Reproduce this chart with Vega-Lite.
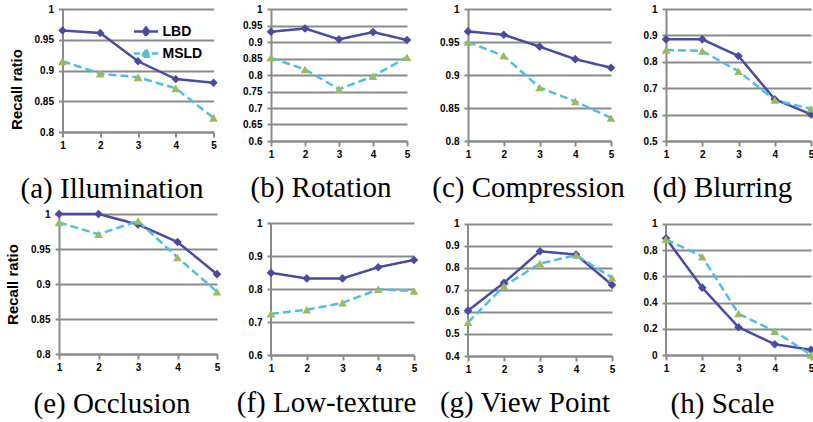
{
  "$schema": "https://vega.github.io/schema/vega-lite/v6.json",
  "padding": {"left": 5, "top": 4, "right": 0, "bottom": 0},
  "data": {"values": [
    {"p":"a","s":"LBD","x":1,"v":0.965},{"p":"a","s":"LBD","x":2,"v":0.961},{"p":"a","s":"LBD","x":3,"v":0.915},{"p":"a","s":"LBD","x":4,"v":0.886},{"p":"a","s":"LBD","x":5,"v":0.880},
    {"p":"a","s":"MSLD","x":1,"v":0.915},{"p":"a","s":"MSLD","x":2,"v":0.895},{"p":"a","s":"MSLD","x":3,"v":0.889},{"p":"a","s":"MSLD","x":4,"v":0.871},{"p":"a","s":"MSLD","x":5,"v":0.823},
    {"p":"b","s":"LBD","x":1,"v":0.931},{"p":"b","s":"LBD","x":2,"v":0.941},{"p":"b","s":"LBD","x":3,"v":0.908},{"p":"b","s":"LBD","x":4,"v":0.930},{"p":"b","s":"LBD","x":5,"v":0.906},
    {"p":"b","s":"MSLD","x":1,"v":0.852},{"p":"b","s":"MSLD","x":2,"v":0.817},{"p":"b","s":"MSLD","x":3,"v":0.757},{"p":"b","s":"MSLD","x":4,"v":0.796},{"p":"b","s":"MSLD","x":5,"v":0.854},
    {"p":"c","s":"LBD","x":1,"v":0.966},{"p":"c","s":"LBD","x":2,"v":0.961},{"p":"c","s":"LBD","x":3,"v":0.943},{"p":"c","s":"LBD","x":4,"v":0.924},{"p":"c","s":"LBD","x":5,"v":0.911},
    {"p":"c","s":"MSLD","x":1,"v":0.950},{"p":"c","s":"MSLD","x":2,"v":0.929},{"p":"c","s":"MSLD","x":3,"v":0.881},{"p":"c","s":"MSLD","x":4,"v":0.860},{"p":"c","s":"MSLD","x":5,"v":0.835},
    {"p":"d","s":"LBD","x":1,"v":0.885},{"p":"d","s":"LBD","x":2,"v":0.885},{"p":"d","s":"LBD","x":3,"v":0.822},{"p":"d","s":"LBD","x":4,"v":0.658},{"p":"d","s":"LBD","x":5,"v":0.601},
    {"p":"d","s":"MSLD","x":1,"v":0.845},{"p":"d","s":"MSLD","x":2,"v":0.841},{"p":"d","s":"MSLD","x":3,"v":0.764},{"p":"d","s":"MSLD","x":4,"v":0.655},{"p":"d","s":"MSLD","x":5,"v":0.622},
    {"p":"e","s":"LBD","x":1,"v":1.0},{"p":"e","s":"LBD","x":2,"v":1.0},{"p":"e","s":"LBD","x":3,"v":0.985},{"p":"e","s":"LBD","x":4,"v":0.960},{"p":"e","s":"LBD","x":5,"v":0.914},
    {"p":"e","s":"MSLD","x":1,"v":0.988},{"p":"e","s":"MSLD","x":2,"v":0.971},{"p":"e","s":"MSLD","x":3,"v":0.990},{"p":"e","s":"MSLD","x":4,"v":0.938},{"p":"e","s":"MSLD","x":5,"v":0.889},
    {"p":"f","s":"LBD","x":1,"v":0.849},{"p":"f","s":"LBD","x":2,"v":0.832},{"p":"f","s":"LBD","x":3,"v":0.832},{"p":"f","s":"LBD","x":4,"v":0.866},{"p":"f","s":"LBD","x":5,"v":0.888},
    {"p":"f","s":"MSLD","x":1,"v":0.725},{"p":"f","s":"MSLD","x":2,"v":0.737},{"p":"f","s":"MSLD","x":3,"v":0.758},{"p":"f","s":"MSLD","x":4,"v":0.799},{"p":"f","s":"MSLD","x":5,"v":0.794},
    {"p":"g","s":"LBD","x":1,"v":0.606},{"p":"g","s":"LBD","x":2,"v":0.733},{"p":"g","s":"LBD","x":3,"v":0.876},{"p":"g","s":"LBD","x":4,"v":0.861},{"p":"g","s":"LBD","x":5,"v":0.723},
    {"p":"g","s":"MSLD","x":1,"v":0.553},{"p":"g","s":"MSLD","x":2,"v":0.718},{"p":"g","s":"MSLD","x":3,"v":0.820},{"p":"g","s":"MSLD","x":4,"v":0.859},{"p":"g","s":"MSLD","x":5,"v":0.756},
    {"p":"h","s":"LBD","x":1,"v":0.891},{"p":"h","s":"LBD","x":2,"v":0.514},{"p":"h","s":"LBD","x":3,"v":0.212},{"p":"h","s":"LBD","x":4,"v":0.082},{"p":"h","s":"LBD","x":5,"v":0.040},
    {"p":"h","s":"MSLD","x":1,"v":0.883},{"p":"h","s":"MSLD","x":2,"v":0.750},{"p":"h","s":"MSLD","x":3,"v":0.316},{"p":"h","s":"MSLD","x":4,"v":0.181},{"p":"h","s":"MSLD","x":5,"v":0.0}
  ]},
  "columns": 4,
  "bounds": "flush",
  "center": {"column": true, "row": false},
  "spacing": {"row": 73, "column": 54},
  "resolve": {"scale": {"color": "independent", "fill": "independent", "stroke": "independent", "shape": "independent", "strokeDash": "independent"}, "legend": {"color": "independent", "fill": "independent", "stroke": "independent", "shape": "independent", "strokeDash": "independent"}},
  "concat": [
    {"width": 151, "height": 123, "transform": [{"filter": "datum.p === 'a'"}],
     "title": {"text": "(a) Illumination", "dx": -26, "offset": 25},
     "encoding": {
       "x": {"field": "x", "type": "quantitative", "scale": {"domain": [1, 5], "nice": false, "zero": false}, "axis": {"values": [1,2,3,4,5], "title": null, "format": "d"}},
       "y": {"field": "v", "type": "quantitative", "scale": {"domain": [0.8, 1], "nice": false, "zero": false}, "axis": {"values": [0.8,0.85,0.9,0.95,1], "format": "~g", "title": "Recall ratio", "titlePadding": 10, "titleFontSize": 15, "titleY": 80}}
     },
     "layer": [
       {"transform": [{"filter": "datum.s === 'LBD'"}], "mark": {"type": "line", "strokeWidth": 2.5, "color": "#4a4aa6"}, "encoding": {}},
       {"transform": [{"filter": "datum.s === 'MSLD'"}], "mark": {"type": "line", "strokeWidth": 2.5, "color": "#4bc0e6", "strokeDash": [8, 4]}, "encoding": {}},
       {"transform": [{"filter": "datum.s === 'LBD'"}], "mark": {"type": "point", "shape": "diamond", "filled": true, "opacity": 1, "size": 70, "color": "#4a4aa6"}},
       {"transform": [{"filter": "datum.s === 'MSLD'"}], "mark": {"type": "point", "shape": "triangle-up", "filled": true, "opacity": 1, "size": 80, "color": "#9bbb59"}},
       {"transform": [{"filter": "false"}], "mark": {"type": "point", "filled": true, "opacity": 1, "strokeWidth": 2.5}, "encoding": {
         "shape": {"field": "s", "type": "nominal", "scale": {"domain": ["LBD","MSLD"], "range": ["M-1.2,0L1.2,0M0,-0.4L0.3,0L0,0.4L-0.3,0Z", "M-1.2,0L1.2,0M0,-0.42L0.42,0.32L-0.42,0.32Z"]},
           "legend": {"title": null, "orient": "top-right", "offset": 7, "padding": 4, "rowPadding": 1, "labelFont": "Liberation Sans", "labelFontWeight": "bold", "labelFontSize": 14, "labelColor": "#000", "labelOffset": 5, "symbolSize": 400, "symbolStrokeWidth": 2.5}},
         "fill": {"field": "s", "type": "nominal", "scale": {"domain": ["LBD","MSLD"], "range": ["#4a4aa6","#9bbb59"]},
           "legend": {"title": null, "orient": "top-right", "offset": 7, "padding": 4, "rowPadding": 1, "labelFont": "Liberation Sans", "labelFontWeight": "bold", "labelFontSize": 14, "labelColor": "#000", "labelOffset": 5, "symbolSize": 400, "symbolStrokeWidth": 2.5}},
         "stroke": {"field": "s", "type": "nominal", "scale": {"domain": ["LBD","MSLD"], "range": ["#4a4aa6","#4bc0e6"]},
           "legend": {"title": null, "orient": "top-right", "offset": 7, "padding": 4, "rowPadding": 1, "labelFont": "Liberation Sans", "labelFontWeight": "bold", "labelFontSize": 14, "labelColor": "#000", "labelOffset": 5, "symbolSize": 400, "symbolStrokeWidth": 2.5}},
         "strokeDash": {"field": "s", "type": "nominal", "scale": {"domain": ["LBD","MSLD"], "range": [[1,0],[6,3]]},
           "legend": {"title": null, "orient": "top-right", "offset": 7, "padding": 4, "rowPadding": 1, "labelFont": "Liberation Sans", "labelFontWeight": "bold", "labelFontSize": 14, "labelColor": "#000", "labelOffset": 5, "symbolSize": 400, "symbolStrokeWidth": 2.5}}
       }}
     ]},
    {"width": 136, "height": 132, "transform": [{"filter": "datum.p === 'b'"}],
     "title": {"text": "(b) Rotation", "dx": -18, "offset": 15},
     "encoding": {
       "x": {"field": "x", "type": "quantitative", "scale": {"domain": [1, 5], "nice": false, "zero": false}, "axis": {"values": [1,2,3,4,5], "title": null, "format": "d"}},
       "y": {"field": "v", "type": "quantitative", "scale": {"domain": [0.6, 1], "nice": false, "zero": false}, "axis": {"values": [0.6,0.65,0.7,0.75,0.8,0.85,0.9,0.95,1], "format": "~g", "title": null}}
     },
     "layer": [
       {"mark": {"type": "line", "strokeWidth": 2.5}, "encoding": {
         "color": {"field": "s", "type": "nominal", "scale": {"domain": ["LBD","MSLD"], "range": ["#4a4aa6","#4bc0e6"]}, "legend": null},
         "strokeDash": {"field": "s", "type": "nominal", "scale": {"domain": ["LBD","MSLD"], "range": [[1,0],[8,4]]}, "legend": null}}},
       {"mark": {"type": "point", "filled": true, "opacity": 1, "size": 75}, "encoding": {
         "fill": {"field": "s", "type": "nominal", "scale": {"domain": ["LBD","MSLD"], "range": ["#4a4aa6","#9bbb59"]}, "legend": null},
         "shape": {"field": "s", "type": "nominal", "scale": {"domain": ["LBD","MSLD"], "range": ["diamond","triangle-up"]}, "legend": null}}}
     ]},
    {"width": 143, "height": 132, "transform": [{"filter": "datum.p === 'c'"}],
     "title": {"text": "(c) Compression", "dx": -11, "offset": 15},
     "encoding": {
       "x": {"field": "x", "type": "quantitative", "scale": {"domain": [1, 5], "nice": false, "zero": false}, "axis": {"values": [1,2,3,4,5], "title": null, "format": "d"}},
       "y": {"field": "v", "type": "quantitative", "scale": {"domain": [0.8, 1], "nice": false, "zero": false}, "axis": {"values": [0.8,0.85,0.9,0.95,1], "format": "~g", "title": null}}
     },
     "layer": [
       {"mark": {"type": "line", "strokeWidth": 2.5}, "encoding": {
         "color": {"field": "s", "type": "nominal", "scale": {"domain": ["LBD","MSLD"], "range": ["#4a4aa6","#4bc0e6"]}, "legend": null},
         "strokeDash": {"field": "s", "type": "nominal", "scale": {"domain": ["LBD","MSLD"], "range": [[1,0],[8,4]]}, "legend": null}}},
       {"mark": {"type": "point", "filled": true, "opacity": 1, "size": 75}, "encoding": {
         "fill": {"field": "s", "type": "nominal", "scale": {"domain": ["LBD","MSLD"], "range": ["#4a4aa6","#9bbb59"]}, "legend": null},
         "shape": {"field": "s", "type": "nominal", "scale": {"domain": ["LBD","MSLD"], "range": ["diamond","triangle-up"]}, "legend": null}}}
     ]},
    {"width": 145, "height": 132, "transform": [{"filter": "datum.p === 'd'"}],
     "title": {"text": "(d) Blurring", "dx": -16, "offset": 15},
     "encoding": {
       "x": {"field": "x", "type": "quantitative", "scale": {"domain": [1, 5], "nice": false, "zero": false}, "axis": {"values": [1,2,3,4,5], "title": null, "format": "d"}},
       "y": {"field": "v", "type": "quantitative", "scale": {"domain": [0.5, 1], "nice": false, "zero": false}, "axis": {"values": [0.5,0.6,0.7,0.8,0.9,1], "format": "~g", "title": null}}
     },
     "layer": [
       {"mark": {"type": "line", "strokeWidth": 2.5}, "encoding": {
         "color": {"field": "s", "type": "nominal", "scale": {"domain": ["LBD","MSLD"], "range": ["#4a4aa6","#4bc0e6"]}, "legend": null},
         "strokeDash": {"field": "s", "type": "nominal", "scale": {"domain": ["LBD","MSLD"], "range": [[1,0],[8,4]]}, "legend": null}}},
       {"mark": {"type": "point", "filled": true, "opacity": 1, "size": 75}, "encoding": {
         "fill": {"field": "s", "type": "nominal", "scale": {"domain": ["LBD","MSLD"], "range": ["#4a4aa6","#9bbb59"]}, "legend": null},
         "shape": {"field": "s", "type": "nominal", "scale": {"domain": ["LBD","MSLD"], "range": ["diamond","triangle-up"]}, "legend": null}}}
     ]},
    {"width": 158, "height": 140, "transform": [{"filter": "datum.p === 'e'"}],
     "title": {"text": "(e) Occlusion", "dx": -26, "offset": 18},
     "encoding": {
       "x": {"field": "x", "type": "quantitative", "scale": {"domain": [1, 5], "nice": false, "zero": false}, "axis": {"values": [1,2,3,4,5], "title": null, "format": "d"}},
       "y": {"field": "v", "type": "quantitative", "scale": {"domain": [0.8, 1], "nice": false, "zero": false}, "axis": {"values": [0.8,0.85,0.9,0.95,1], "format": "~g", "title": "Recall ratio", "titlePadding": 10, "titleFontSize": 15}}
     },
     "layer": [
       {"mark": {"type": "line", "strokeWidth": 2.5}, "encoding": {
         "color": {"field": "s", "type": "nominal", "scale": {"domain": ["LBD","MSLD"], "range": ["#4a4aa6","#4bc0e6"]}, "legend": null},
         "strokeDash": {"field": "s", "type": "nominal", "scale": {"domain": ["LBD","MSLD"], "range": [[1,0],[8,4]]}, "legend": null}}},
       {"mark": {"type": "point", "filled": true, "opacity": 1, "size": 75}, "encoding": {
         "fill": {"field": "s", "type": "nominal", "scale": {"domain": ["LBD","MSLD"], "range": ["#4a4aa6","#9bbb59"]}, "legend": null},
         "shape": {"field": "s", "type": "nominal", "scale": {"domain": ["LBD","MSLD"], "range": ["diamond","triangle-up"]}, "legend": null}}}
     ]},
    {"width": 143, "height": 141, "transform": [{"filter": "datum.p === 'f'"}],
     "title": {"text": "(f) Low-texture", "dx": -16, "offset": 16},
     "encoding": {
       "x": {"field": "x", "type": "quantitative", "scale": {"domain": [1, 5], "nice": false, "zero": false}, "axis": {"values": [1,2,3,4,5], "title": null, "format": "d"}},
       "y": {"field": "v", "type": "quantitative", "scale": {"domain": [0.6, 1.0273], "nice": false, "zero": false}, "axis": {"values": [0.6,0.7,0.8,0.9,1], "format": "~g", "title": null, "domain": false}}
     },
     "layer": [
       {"mark": {"type": "rule", "color": "#8a8a8a", "strokeWidth": 2}, "encoding": {"x": {"datum": 1}, "y": {"datum": 0.6}, "y2": {"datum": 1}}},
       {"mark": {"type": "line", "strokeWidth": 2.5}, "encoding": {
         "color": {"field": "s", "type": "nominal", "scale": {"domain": ["LBD","MSLD"], "range": ["#4a4aa6","#4bc0e6"]}, "legend": null},
         "strokeDash": {"field": "s", "type": "nominal", "scale": {"domain": ["LBD","MSLD"], "range": [[1,0],[8,4]]}, "legend": null}}},
       {"mark": {"type": "point", "filled": true, "opacity": 1, "size": 75}, "encoding": {
         "fill": {"field": "s", "type": "nominal", "scale": {"domain": ["LBD","MSLD"], "range": ["#4a4aa6","#9bbb59"]}, "legend": null},
         "shape": {"field": "s", "type": "nominal", "scale": {"domain": ["LBD","MSLD"], "range": ["diamond","triangle-up"]}, "legend": null}}}
     ]},
    {"width": 144, "height": 142, "transform": [{"filter": "datum.p === 'g'"}],
     "title": {"text": "(g) View Point", "dx": -15, "offset": 15},
     "encoding": {
       "x": {"field": "x", "type": "quantitative", "scale": {"domain": [1, 5], "nice": false, "zero": false}, "axis": {"values": [1,2,3,4,5], "title": null, "format": "d"}},
       "y": {"field": "v", "type": "quantitative", "scale": {"domain": [0.4, 1.04545], "nice": false, "zero": false}, "axis": {"values": [0.4,0.5,0.6,0.7,0.8,0.9,1], "format": "~g", "title": null, "domain": false}}
     },
     "layer": [
       {"mark": {"type": "rule", "color": "#8a8a8a", "strokeWidth": 2}, "encoding": {"x": {"datum": 1}, "y": {"datum": 0.4}, "y2": {"datum": 1}}},
       {"mark": {"type": "line", "strokeWidth": 2.5}, "encoding": {
         "color": {"field": "s", "type": "nominal", "scale": {"domain": ["LBD","MSLD"], "range": ["#4a4aa6","#4bc0e6"]}, "legend": null},
         "strokeDash": {"field": "s", "type": "nominal", "scale": {"domain": ["LBD","MSLD"], "range": [[1,0],[8,4]]}, "legend": null}}},
       {"mark": {"type": "point", "filled": true, "opacity": 1, "size": 75}, "encoding": {
         "fill": {"field": "s", "type": "nominal", "scale": {"domain": ["LBD","MSLD"], "range": ["#4a4aa6","#9bbb59"]}, "legend": null},
         "shape": {"field": "s", "type": "nominal", "scale": {"domain": ["LBD","MSLD"], "range": ["diamond","triangle-up"]}, "legend": null}}}
     ]},
    {"width": 145, "height": 141, "transform": [{"filter": "datum.p === 'h'"}],
     "title": {"text": "(h) Scale", "dx": -16, "offset": 17},
     "encoding": {
       "x": {"field": "x", "type": "quantitative", "scale": {"domain": [1, 5], "nice": false, "zero": false}, "axis": {"values": [1,2,3,4,5], "title": null, "format": "d"}},
       "y": {"field": "v", "type": "quantitative", "scale": {"domain": [0, 1.0763], "nice": false, "zero": false}, "axis": {"values": [0,0.2,0.4,0.6,0.8,1], "format": "~g", "title": null, "domain": false}}
     },
     "layer": [
       {"mark": {"type": "rule", "color": "#8a8a8a", "strokeWidth": 2}, "encoding": {"x": {"datum": 1}, "y": {"datum": 0}, "y2": {"datum": 1}}},
       {"mark": {"type": "line", "strokeWidth": 2.5}, "encoding": {
         "color": {"field": "s", "type": "nominal", "scale": {"domain": ["LBD","MSLD"], "range": ["#4a4aa6","#4bc0e6"]}, "legend": null},
         "strokeDash": {"field": "s", "type": "nominal", "scale": {"domain": ["LBD","MSLD"], "range": [[1,0],[8,4]]}, "legend": null}}},
       {"mark": {"type": "point", "filled": true, "opacity": 1, "size": 75}, "encoding": {
         "fill": {"field": "s", "type": "nominal", "scale": {"domain": ["LBD","MSLD"], "range": ["#4a4aa6","#9bbb59"]}, "legend": null},
         "shape": {"field": "s", "type": "nominal", "scale": {"domain": ["LBD","MSLD"], "range": ["diamond","triangle-up"]}, "legend": null}}}
     ]}
  ],
  "config": {
    "view": {"stroke": null},
    "axis": {"domainColor": "#8a8a8a", "domainWidth": 2, "tickColor": "#8a8a8a", "tickWidth": 2, "gridColor": "#8a8a8a", "gridWidth": 2, "gridOpacity": 1, "labelFont": "Liberation Sans", "labelFontWeight": "bold", "labelFontSize": 10, "labelColor": "#000", "labelOverlap": false, "titleFont": "Liberation Sans", "titleFontWeight": "bold", "titleFontSize": 14, "titleColor": "#000"},
    "axisX": {"grid": false, "tickSize": 5, "labelPadding": 3, "labelFlush": false},
    "axisY": {"grid": true, "tickSize": 4, "labelPadding": 5},
    "title": {"orient": "bottom", "anchor": "middle", "frame": "group", "font": "Liberation Serif", "fontSize": 29, "fontWeight": "normal", "color": "#000"}
  }
}
